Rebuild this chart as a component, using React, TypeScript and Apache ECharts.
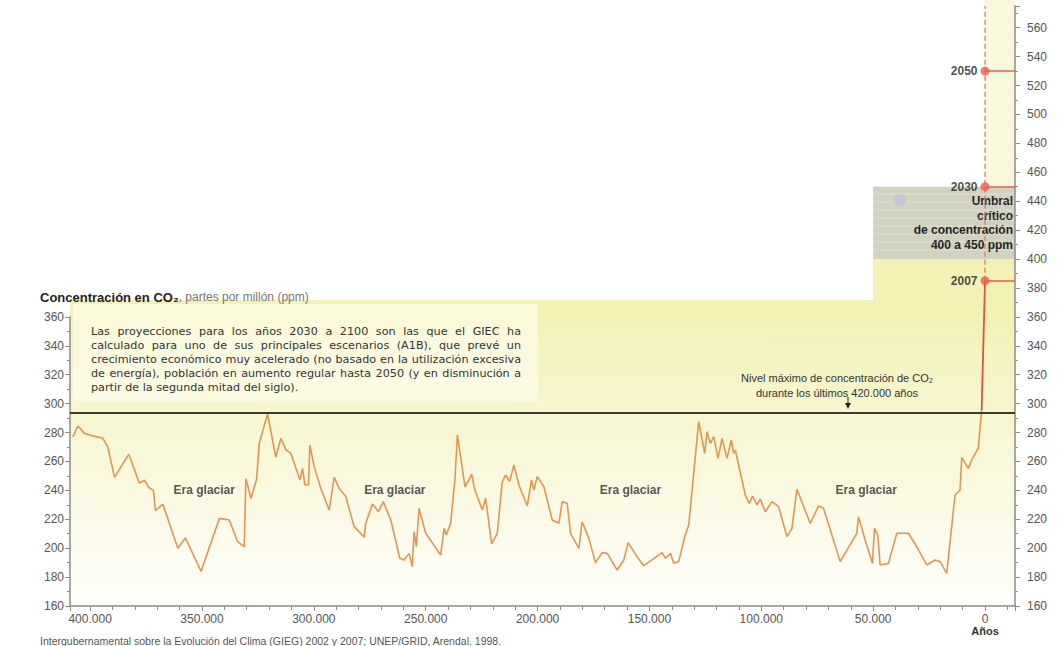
import React, { useEffect, useRef } from 'react';
import * as echarts from 'echarts';

// ---- Data (years before present, CO2 ppm) ----
const years = [
  407700, 405500, 402500, 399500, 394300, 392100, 389100, 382700, 378000, 375700,
  373800, 371700, 370800, 367500, 360800, 357400, 350400, 342200, 337800, 334100,
  331100, 330400, 328100, 325600, 324400, 320700, 317000, 314700, 312500, 310300,
  306200, 305060, 304000, 302400, 301800, 299850, 296900, 293150, 290900, 288700,
  285700, 282000, 277500, 276800, 273800, 271100, 269000, 265600, 261600, 259700,
  257400, 256000, 255200, 254170, 253000, 250000, 243300, 241800, 240800, 238850,
  236900, 235850, 232450, 230650, 229470, 228130, 224700, 223200, 220550, 218000,
  215780, 214300, 212500, 210570, 208340, 204620, 202680, 201640, 200150, 197170,
  193450, 190480, 188990, 186760, 185270, 181550, 180060, 177080, 174110, 171130,
  168900, 164440, 161460, 159530, 155510, 152530, 144350, 142860, 140630, 139140,
  136910, 134230, 132440, 127980, 125300, 124260, 122770, 121280, 119350, 117560,
  115330, 113400, 112360, 111610, 110130, 107150, 105360, 103870, 101940, 100450,
  98220, 95240, 92260, 88540, 86310, 84080, 78130, 74400, 72180, 64740,
  57300, 56550, 53580, 50300, 49410, 47920, 46880, 43160, 39440, 34230,
  30510, 26050, 22330, 20090, 17120, 13400, 11170, 10420, 7450, 5960,
  3000, 1500,
];
const co2 = [
  277, 284.5, 279.4, 278, 276, 270, 249, 265, 245, 247,
  242, 240, 226, 230.5, 200, 207, 184, 220.6, 219.5, 204.5,
  201, 248, 234.5, 247.6, 272.5, 292.8, 263, 276, 268, 265.6,
  247.2, 255.2, 243.7, 243.7, 271.4, 256.4, 241.4, 226.4, 249, 241.4,
  235.6, 214.9, 207.5, 217.2, 230.5, 225.2, 232.2, 219.5, 193, 191.8,
  196.4, 187.2, 211.4, 201, 227.6, 210.3, 195.3, 213.7, 209.1, 217.2,
  248.3, 278.3, 242.5, 247.2, 251.3, 240.7, 226.4, 234.5, 202.9, 210.3,
  246, 250.6, 246, 257.5, 243.7, 229.2, 247.2, 240.2, 249.5, 242.5,
  219.5, 217.2, 232.2, 231, 210.3, 199.9, 218.3, 206.8, 190, 196.9,
  196.4, 184.9, 191.8, 203.8, 194.1, 187.9, 196.9, 193, 196.4, 189.5,
  190.7, 207.9, 216, 287.5, 265.6, 280.6, 272.5, 277.1, 262.1, 276,
  262.1, 274.8, 265.6, 267.9, 257.5, 236.8, 231, 236.1, 229.9, 234,
  225.2, 232.2, 228.7, 208, 213.7, 240.7, 217.2, 229.2, 227.6, 190.7,
  210.3, 221.8, 205.6, 189.5, 213.7, 209.1, 188.4, 189.5, 210.3, 210.3,
  201, 188.4, 191.8, 190.7, 182.6, 236.8, 240.2, 262.8, 255.2, 261,
  269.1, 295.6,
];
const modernYears = [1500, 0];
const modernCo2 = [295.6, 385];

const milestoneLabels = ['2007', '2030', '2050'];
const milestoneValues = [385, 450, 530];

const maxLevel = 294;
const thresholdLow = 400;
const thresholdHigh = 450;
const thresholdFromYear = 50000;

const eraLabel = 'Era glaciar';
const eraYears = [349000, 263800, 158500, 53100];
const eraLevel = 240;

const xMin = -13400;
const xMax = 409000;
const yMin = 160;
const yMaxRight = 575;
const yMaxLeft = 360;
const yStep = 20;

const titleBold = 'Concentración en CO₂';
const titleRest = ', partes por millón (ppm)';
const boxText = [
  'Las proyecciones para los años 2030 a 2100 son las que el GIEC ha',
  'calculado para uno de sus principales escenarios (A1B), que prevé un',
  'crecimiento económico muy acelerado (no basado en la utilización excesiva',
  'de energía), población en aumento regular hasta 2050 (y en disminución a',
  'partir de la segunda mitad del siglo).',
];
const maxNote = ['Nivel máximo de concentración de CO₂', 'durante los últimos 420.000 años'];
const thresholdNote = ['Umbral', 'crítico', 'de concentración', '400 a 450 ppm'];
const sourceNote = 'Intergubernamental sobre la Evolución del Clima (GIEG) 2002 y 2007; UNEP/GRID, Arendal, 1998.';
const xUnit = 'Años';

const FONT = '"Liberation Sans Narrow", "Liberation Sans", Arial, sans-serif';
const FONT_R = '"Liberation Sans", Arial, sans-serif';
const FONT_W = '"DejaVu Sans", Verdana, sans-serif';
const AXIS_C = '#8c8c8c';
const LABEL_C = '#555';

const fmtThousands = (v: number) => String(v).replace(/\B(?=(\d{3})+(?!\d))/g, '.');

// Justified paragraph as individual word texts
function justifiedText(lines: string[], x0: number, y0: number, width: number, lh: number, size: number) {
  const canvas = document.createElement('canvas');
  const ctx = canvas.getContext('2d');
  const font = `${size}px ${FONT_W}`;
  if (ctx) ctx.font = font;
  const measure = (s: string) => (ctx ? ctx.measureText(s).width : s.length * size * 0.55);
  const els: any[] = [];
  lines.forEach((line, li) => {
    const y = y0 + li * lh;
    const words = line.split(' ');
    const last = li === lines.length - 1;
    const widths = words.map(measure);
    const total = widths.reduce((a, b) => a + b, 0);
    const gap = last || words.length < 2 ? measure(' ') : (width - total) / (words.length - 1);
    let x = x0;
    words.forEach((w, wi) => {
      els.push({
        type: 'text',
        z: 10,
        x,
        y,
        style: { text: w, fontSize: size, fontFamily: FONT_W, fill: '#333', verticalAlign: 'middle' },
      });
      x += widths[wi] + gap;
    });
  });
  return els;
}

export default function App() {
  const ref = useRef<HTMLDivElement>(null);
  useEffect(() => {
    if (!ref.current) return;
    const chart = echarts.init(ref.current, null, { renderer: 'svg' });

    const yAxisCommon = (idx: number, pos: 'left' | 'right', max: number, z: number) => ({
      type: 'value',
      gridIndex: idx,
      position: pos,
      min: yMin,
      max,
      interval: yStep,
      z,
      axisLine: { show: true, onZero: false, lineStyle: { color: AXIS_C, width: 1.5 } },
      axisTick: { show: true, length: 5, lineStyle: { color: AXIS_C } },
      minorTick: { show: true, splitNumber: 2, length: 3, lineStyle: { color: AXIS_C } },
      splitLine: { show: false },
      axisLabel: {
        margin: pos === 'left' ? 6 : 12,
        color: LABEL_C,
        fontSize: 12,
        fontFamily: FONT,
        formatter: (v: number) => (v % yStep === 0 ? String(v) : ''),
      },
    });

    const stripes: any[] = [];
    for (let y = 194; y < 258; y += 8) {
      stripes.push({
        type: 'line',
        z: 2,
        shape: { x1: 874, y1: y, x2: 1013, y2: y },
        style: { stroke: 'rgba(255,255,255,0.18)', lineWidth: 1.5 },
      });
    }

    const option: any = {
      animation: false,
      backgroundColor: '#ffffff',
      grid: [
        { left: 70, right: 46, top: 6, bottom: 40 },
        { left: 70, right: 46, top: 646 - 40 - 600 * (yMaxLeft - yMin) / (yMaxRight - yMin), bottom: 40 },
      ],
      xAxis: [
        {
          type: 'value',
          gridIndex: 0,
          inverse: true,
          min: xMin,
          max: xMax,
          splitNumber: 8,
          axisLine: { show: true, onZero: false, lineStyle: { color: AXIS_C, width: 1.5 } },
          axisTick: { show: true, length: 5, lineStyle: { color: AXIS_C } },
          minorTick: { show: true, splitNumber: 5, length: 4, lineStyle: { color: AXIS_C } },
          splitLine: { show: false },
          axisLabel: {
            margin: 7,
            color: LABEL_C,
            fontSize: 12,
            fontFamily: FONT,
            lineHeight: 12,
            formatter: (v: number) => {
              if (v % 50000 !== 0) return '';
              if (v === 0) return '0\n{u|' + xUnit + '}';
              return fmtThousands(v);
            },
            rich: { u: { fontWeight: 'bold', fontSize: 11, color: '#333', fontFamily: FONT_R, lineHeight: 12 } },
          },
        },
        { type: 'value', gridIndex: 1, inverse: true, min: xMin, max: xMax, show: false },
      ],
      yAxis: [yAxisCommon(0, 'right', yMaxRight, 4), yAxisCommon(1, 'left', yMaxLeft, 4)],
      series: [
        {
          type: 'line',
          name: 'umbral',
          xAxisIndex: 0,
          yAxisIndex: 0,
          data: [],
          z: 1,
          markArea: {
            silent: true,
            itemStyle: { color: '#d2d2c0' },
            label: {
              show: true,
              position: 'insideRight',
              distance: 2,
              formatter: thresholdNote.join('\n'),
              align: 'right',
              color: '#222',
              fontWeight: 'bold',
              fontSize: 12,
              fontFamily: FONT_R,
              lineHeight: 14.5,
            },
            data: [[{ coord: [thresholdFromYear, thresholdHigh] }, { coord: [xMin, thresholdLow] }]],
          },
        },
        {
          type: 'line',
          name: 'historico',
          xAxisIndex: 0,
          yAxisIndex: 0,
          data: years.map((y, i) => [y, co2[i]]),
          symbol: 'none',
          z: 3,
          lineStyle: { color: '#e39552', width: 1.6 },
          markLine: {
            silent: true,
            symbol: 'none',
            label: { show: false },
            lineStyle: { color: '#3a3a2e', width: 2, type: 'solid' },
            data: [[{ coord: [xMax, maxLevel] }, { coord: [xMin, maxLevel] }]],
          },
        },
        {
          type: 'line',
          name: 'moderno',
          xAxisIndex: 0,
          yAxisIndex: 0,
          data: modernYears.map((y, i) => [y, modernCo2[i]]),
          symbol: 'none',
          z: 3,
          lineStyle: { color: '#e0533a', width: 1.8 },
        },
        {
          type: 'line',
          name: 'proyeccion',
          xAxisIndex: 0,
          yAxisIndex: 0,
          data: [[0, milestoneValues[0]], [0, yMaxRight]],
          symbol: 'none',
          z: 3,
          lineStyle: { color: '#e5785e', width: 1.3, type: [5, 3] },
        },
        {
          type: 'scatter',
          name: 'hitos',
          xAxisIndex: 0,
          yAxisIndex: 0,
          z: 5,
          data: milestoneValues.map((v, i) => ({ value: [0, v], name: milestoneLabels[i] })),
          symbol: 'circle',
          symbolSize: 9,
          itemStyle: { color: '#e8604a' },
          label: {
            show: true,
            position: 'left',
            distance: 3,
            formatter: (p: any) => p.name,
            color: '#222',
            fontWeight: 'bold',
            fontSize: 12,
            fontFamily: FONT_R,
          },
          markLine: {
            silent: true,
            symbol: 'none',
            label: { show: false },
            lineStyle: { color: '#e8604a', width: 1.5, type: 'solid' },
            data: milestoneValues.map((v) => [{ coord: [0, v] }, { coord: [xMin, v] }]),
          },
        },
        {
          type: 'scatter',
          name: 'eras',
          xAxisIndex: 0,
          yAxisIndex: 0,
          z: 5,
          data: eraYears.map((y) => [y, eraLevel]),
          symbolSize: 0,
          label: {
            show: true,
            position: 'inside',
            formatter: eraLabel,
            color: '#2a2a2a',
            fontWeight: 'bold',
            fontSize: 12,
            fontFamily: FONT_R,
          },
        },
      ],
      graphic: [
        {
          type: 'rect',
          z: -5,
          shape: { x: 70, y: 300, width: 945, height: 306 },
          style: {
            fill: new echarts.graphic.LinearGradient(0, 0, 0, 1, [
              { offset: 0, color: '#f3f1b3' },
              { offset: 0.45, color: '#f8f7d6' },
              { offset: 1, color: '#fefefb' },
            ]),
          },
        },
        { type: 'rect', z: -5, shape: { x: 873, y: 255, width: 142, height: 46 }, style: { fill: '#f3f1b5' } },
        { type: 'rect', z: -5, shape: { x: 985, y: 0, width: 30, height: 190 }, style: { fill: '#f8f7dc' } },
        { type: 'rect', z: -4, shape: { x: 73, y: 304, width: 465, height: 97 }, style: { fill: 'rgba(255,255,248,0.55)' } },
        ...stripes,
        { type: 'circle', z: 2, shape: { cx: 900, cy: 200, r: 6 }, style: { fill: '#c4c7d8' } },
        {
          type: 'text',
          z: 10,
          x: 40,
          y: 297,
          style: {
            text: '{b|' + titleBold + '}{n|' + titleRest + '}',
            verticalAlign: 'middle',
            rich: {
              b: { fontWeight: 'bold', fontSize: 13, fill: '#222', fontFamily: FONT_R },
              n: { fontSize: 12, fill: '#777', fontFamily: FONT_R },
            },
          },
        },
        ...justifiedText(boxText, 91, 331, 430, 14.2, 11.2),
        {
          type: 'text',
          z: 10,
          x: 837,
          y: 385,
          style: {
            text: maxNote.join('\n'),
            align: 'center',
            verticalAlign: 'middle',
            fontSize: 11,
            lineHeight: 15,
            fontFamily: FONT,
            fill: '#333',
          },
        },
        { type: 'line', z: 10, shape: { x1: 848, y1: 397, x2: 848, y2: 404 }, style: { stroke: '#222', lineWidth: 1 } },
        { type: 'polygon', z: 10, shape: { points: [[845, 403], [851, 403], [848, 409]] }, style: { fill: '#222' } },
        {
          type: 'text',
          z: 10,
          x: 40,
          y: 641,
          style: {
            text: sourceNote,
            verticalAlign: 'middle',
            fontSize: 10.5,
            fontFamily: FONT_R,
            fill: '#555',
          },
        },
      ],
    };
    chart.setOption(option);
    return () => chart.dispose();
  }, []);
  return (
    <div
      ref={ref}
      style={{ position: 'absolute', left: 0, top: 0, width: 1061, height: 646, background: '#fff' }}
    />
  );
}
